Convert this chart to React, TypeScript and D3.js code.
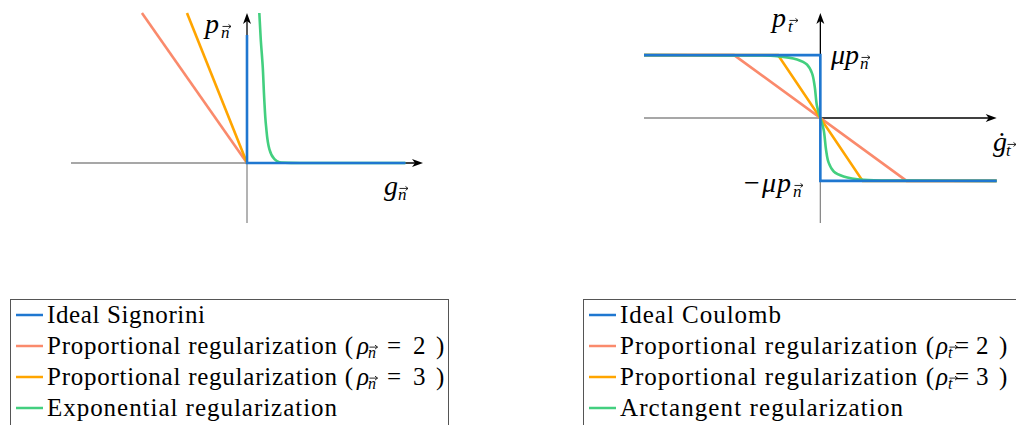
import React from 'react';
import * as d3 from 'd3';

type Pt = [number, number];

// left panel: normal contact (g_n, p_n)
const signoriniIdeal: Pt[] = [[0, 0.853], [0, 0], [0.9, 0]];
const signoriniProp2: Pt[] = [[-0.597, 1.0], [0, 0]];
const signoriniProp3: Pt[] = [[-0.341, 1.0], [0, 0]];
const signoriniExp: Pt[] = [
  [0.07, 1.0], [0.078, 0.827], [0.089, 0.649], [0.098, 0.427], [0.108, 0.249],
  [0.127, 0.093], [0.155, 0.027], [0.184, 0.005], [0.3, 0], [0.9, 0],
];

// right panel: tangential contact (gdot_t, p_t), in units of mu*p_n
const coulombIdeal: Pt[] = [[-1, 1], [0, 1], [0, -1], [1, -1]];
const coulombProp2: Pt[] = [[-1, 1], [-0.489, 1], [0.489, -1], [1, -1]];
const coulombProp3: Pt[] = [[-1, 1], [-0.24, 1], [0.24, -1], [1, -1]];
const coulombAtan: Pt[] = [
  [-1, 1], [-0.51, 0.995], [-0.246, 0.984], [-0.132, 0.93], [-0.076, 0.85],
  [-0.047, 0.71], [-0.032, 0.5], [-0.019, 0.19], [0, 0],
  [0.019, -0.19], [0.032, -0.5], [0.047, -0.71], [0.076, -0.85],
  [0.132, -0.93], [0.246, -0.984], [0.51, -0.995], [1, -1],
];

const colors = ['#1f77d0', '#fa8a6c', '#ffa500', '#43cf7f'];
const leftLabels = ['Ideal Signorini', 'Proportional regularization (', 'Proportional regularization (', 'Exponential regularization'];
const rightLabels = ['Ideal Coulomb', 'Proportional regularization (', 'Proportional regularization (', 'Arctangent regularization'];
const rhoValues = [null, 2, 3, null];
// text widths measured in the reference legends
const leftWidths = [158, 306, 306, 290];
const rightWidths = [161, 314, 314, 283];
// offsets of ρ, subscript, '=', value, ')' after the '(' in each legend
const leftRhoOffsets = [4, 15, 34, 60, 83];
const rightRhoOffsets = [2, 14, 21, 42, 65];

const SERIF = '"Liberation Serif", "Times New Roman", "DejaVu Serif", serif';
const GREY = '#8a8a8a';

const Arrow = ({ x, y, dir }: { x: number; y: number; dir: 'up' | 'right' }) => {
  const d = dir === 'up'
    ? `M${x},${y} L${x - 4},${y + 11} L${x},${y + 8} L${x + 4},${y + 11} Z`
    : `M${x},${y} L${x - 11},${y - 4} L${x - 8},${y} L${x - 11},${y + 4} Z`;
  return <path d={d} fill="#000" />;
};

const T = ({ x, y, size, italic, children }: { x: number; y: number; size: number; italic?: boolean; children: React.ReactNode }) => (
  <text x={x} y={y} fontSize={size} fontFamily={SERIF} fontStyle={italic ? 'italic' : 'normal'}
    style={{ fontFamily: SERIF }}>{children}</text>
);

// small vector arrow drawn above a subscript letter
const VecMark = ({ x, y, w }: { x: number; y: number; w: number }) => (
  <g stroke="#111" strokeWidth={0.9} fill="none">
    <line x1={x} x2={x + w} y1={y} y2={y} />
    <path d={`M${x + w - 2.5},${y - 2} L${x + w},${y} L${x + w - 2.5},${y + 2}`} />
  </g>
);

// italic letter with a vector subscript
const VecSub = ({ x, y, ch, size = 16 }: { x: number; y: number; ch: string; size?: number }) => (
  <g>
    <T x={x} y={y} size={size} italic>{ch}</T>
    <VecMark x={x + 1.5} y={y - size * 0.68} w={size * 0.5} />
  </g>
);

const App: React.FC = () => {
  const xL = d3.scaleLinear().domain([-1, 1]).range([71, 423]);
  const yL = d3.scaleLinear().domain([-0.4, 1]).range([223, 13]);
  const xR = d3.scaleLinear().domain([-1, 1]).range([644, 996.7]);
  const yR = d3.scaleLinear().domain([-1.67, 1.67]).range([223, 13]);

  const lineL = d3.line<Pt>().x(d => xL(d[0])).y(d => yL(d[1]));
  const curveL = d3.line<Pt>().x(d => xL(d[0])).y(d => yL(d[1])).curve(d3.curveMonotoneY);
  const lineR = d3.line<Pt>().x(d => xR(d[0])).y(d => yR(d[1]));
  const curveR = d3.line<Pt>().x(d => xR(d[0])).y(d => yR(d[1])).curve(d3.curveCatmullRom.alpha(0.5));

  const leftSeries = [lineL(signoriniIdeal), lineL(signoriniProp2), lineL(signoriniProp3), curveL(signoriniExp)];
  const rightSeries = [lineR(coulombIdeal), lineR(coulombProp2), lineR(coulombProp3), curveR(coulombAtan)];
  const drawOrder = [1, 2, 3, 0];

  const legend = (x0: number, labels: string[], widths: number[], offs: number[], sub: string, boxW: number) => (
    <g>
      <rect x={x0 + 0.5} y={299.5} width={boxW} height={140} fill="#fff" stroke="#555" strokeWidth={1} />
      {labels.map((lab, i) => {
        const cy = 315 + i * 31;
        const tx = x0 + 37;
        const rx = tx + widths[i];
        return (
          <g key={lab + i}>
            <line x1={x0 + 6} x2={x0 + 33} y1={cy} y2={cy} stroke={colors[i]} strokeWidth={2.5} />
            <text x={tx} y={cy + 8} fontSize={25} textLength={widths[i]} fontFamily={SERIF}
              style={{ fontFamily: SERIF }}>{lab}</text>
            {rhoValues[i] !== null && (
              <>
                <T x={rx + offs[0]} y={cy + 8} size={25} italic>ρ</T>
                <VecSub x={rx + offs[1]} y={cy + 12} ch={sub} size={16} />
                <T x={rx + offs[2]} y={cy + 8} size={25}>=</T>
                <T x={rx + offs[3]} y={cy + 8} size={25}>{String(rhoValues[i])}</T>
                <T x={rx + offs[4]} y={cy + 8} size={25}>)</T>
              </>
            )}
          </g>
        );
      })}
    </g>
  );

  return (
    <svg width={1016} height={425} fontFamily={SERIF}
      style={{ position: 'absolute', left: 0, top: 0, background: '#fff', fontFamily: SERIF }}>
      {/* left axes */}
      <line x1={xL(-1)} x2={xL(0)} y1={yL(0)} y2={yL(0)} stroke={GREY} strokeWidth={1.3} />
      <line x1={xL(0)} x2={xL(1) - 6} y1={yL(0)} y2={yL(0)} stroke="#000" strokeWidth={1.3} />
      <line x1={xL(0)} x2={xL(0)} y1={yL(-0.4)} y2={yL(0)} stroke={GREY} strokeWidth={1.3} />
      <line x1={xL(0)} x2={xL(0)} y1={yL(0)} y2={yL(1) + 6} stroke="#000" strokeWidth={1.3} />
      <Arrow x={xL(1)} y={yL(0)} dir="right" />
      <Arrow x={xL(0)} y={yL(1)} dir="up" />

      {drawOrder.map(i => (
        <path key={'l' + i} d={leftSeries[i] || ''} fill="none" stroke={colors[i]} strokeWidth={2.6} />
      ))}

      <T x={205} y={33} size={28} italic>p</T>
      <VecSub x={221} y={38} ch="n" size={17} />
      <T x={384} y={195} size={28} italic>g</T>
      <VecSub x={398} y={200} ch="n" size={17} />

      {/* right axes */}
      <line x1={xR(-1)} x2={xR(0)} y1={yR(0)} y2={yR(0)} stroke={GREY} strokeWidth={1.3} />
      <line x1={xR(0)} x2={xR(1) - 6} y1={yR(0)} y2={yR(0)} stroke="#000" strokeWidth={1.3} />
      <line x1={xR(0)} x2={xR(0)} y1={yR(-1.67)} y2={yR(0)} stroke={GREY} strokeWidth={1.3} />
      <line x1={xR(0)} x2={xR(0)} y1={yR(0)} y2={yR(1.67) + 6} stroke="#000" strokeWidth={1.3} />
      <Arrow x={xR(1)} y={yR(0)} dir="right" />
      <Arrow x={xR(0)} y={yR(1.67)} dir="up" />

      {drawOrder.map(i => (
        <path key={'r' + i} d={rightSeries[i] || ''} fill="none" stroke={colors[i]} strokeWidth={2.6} />
      ))}

      <T x={772} y={27} size={28} italic>p</T>
      <VecSub x={788} y={32} ch="t" size={17} />
      <T x={831} y={64} size={28} italic>μ</T>
      <T x={845} y={64} size={28} italic>p</T>
      <VecSub x={860} y={69} ch="n" size={17} />
      <T x={744} y={192} size={28}>−</T>
      <T x={762} y={192} size={28} italic>μ</T>
      <T x={777} y={192} size={28} italic>p</T>
      <VecSub x={793} y={197} ch="n" size={17} />
      <T x={993} y={151} size={28} italic>{'\u0121'}</T>
      <VecSub x={1006} y={156} ch="t" size={17} />

      {legend(10, leftLabels, leftWidths, leftRhoOffsets, 'n', 438)}
      {legend(583, rightLabels, rightWidths, rightRhoOffsets, 't', 460)}
    </svg>
  );
};

export default App;
